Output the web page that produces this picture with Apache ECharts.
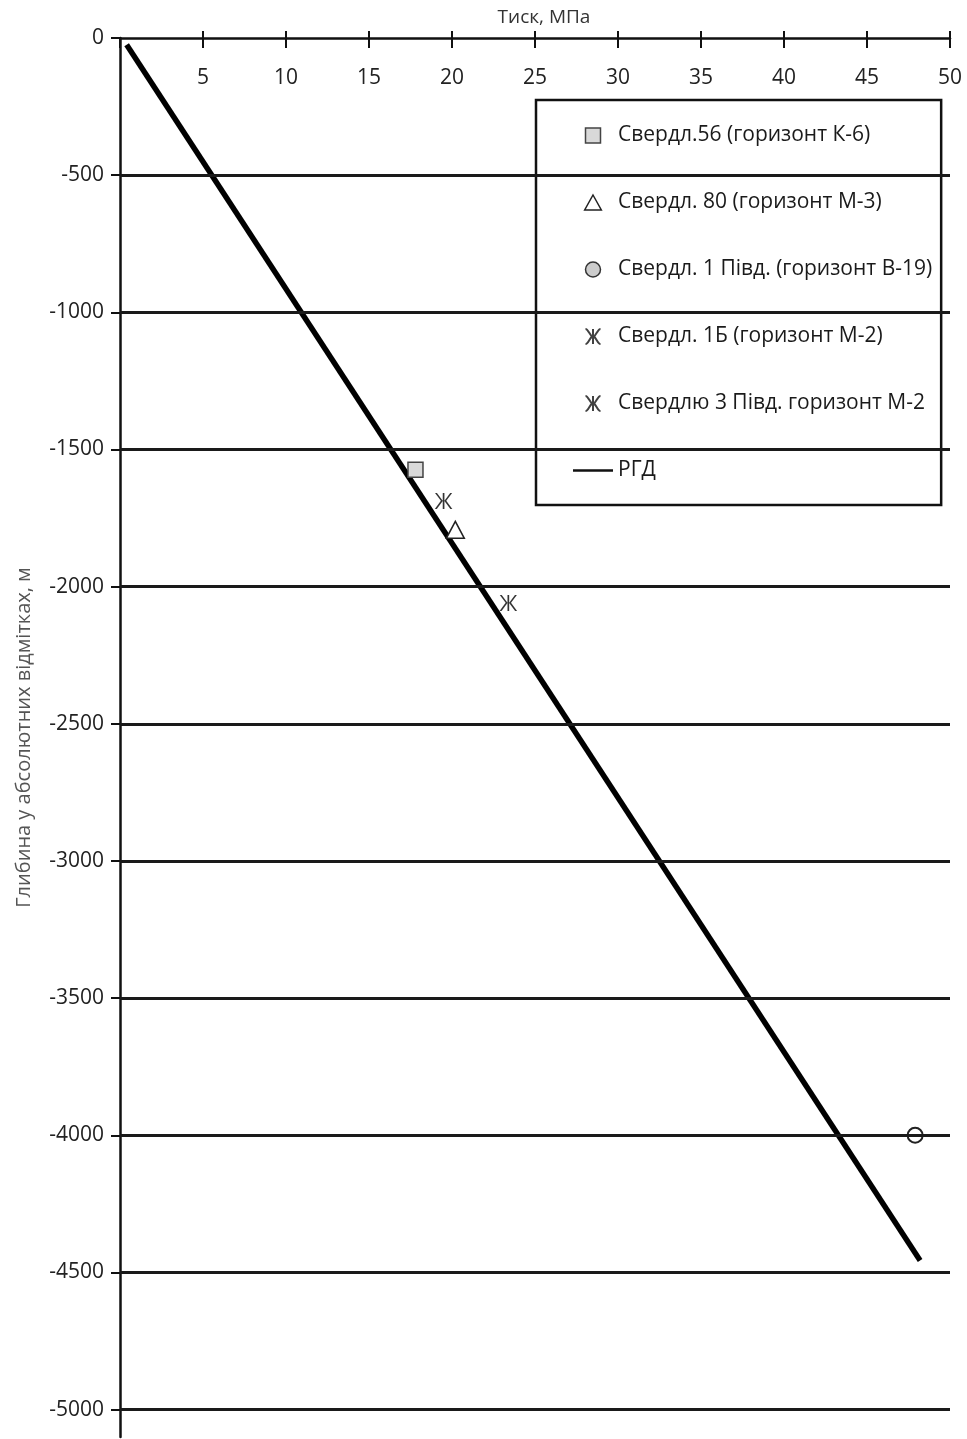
<!DOCTYPE html>
<html>
<head>
<meta charset="utf-8">
<script src="https://cdn.jsdelivr.net/npm/echarts@6/dist/echarts.min.js"></script>
<style>
  html, body { margin: 0; padding: 0; background: #fff; }
  #chart { width: 967px; height: 1439px; }
</style>
</head>
<body>
<div id="chart"></div>
<script>
// ---- data ----
const seriesNames = [
  'Свердл.56 (горизонт К-6)',
  'Свердл. 80 (горизонт М-3)',
  'Свердл. 1 Півд. (горизонт В-19)',
  'Свердл. 1Б (горизонт М-2)',
  'Свердлю 3 Півд. горизонт М-2',
  'РГД'
];
const well56 = [[17.8, -1574]];
const well80 = [[20.2, -1793]];
const well1Pivd = [[47.9, -4000]];
const well1B = [[19.5, -1694]];
const well3Pivd = [[23.4, -2066]];
const rgdLine = [[0.4, -25], [48.2, -4457]];
const depthTicks = [0, -500, -1000, -1500, -2000, -2500, -3000, -3500, -4000, -4500, -5000];
const depthGridLines = [-500, -1000, -1500, -2000, -2500, -3000, -3500, -4000, -4500, -5000];
const pressureMin = 0, pressureMax = 50, pressureStep = 5;
const depthMin = -5100, depthMax = 0;

const FONT = 'Open Sans';
const rectIcon = 'path://M0,0 L10,0 L10,10 L0,10 Z';
const triIcon = 'path://M5,0 L10,9 L0,9 Z';
const zhePath = 'path://M0,0 C2.5,0 4,6 6.3,7 C4,8 2.5,14 0,14 M14,0 C11.5,0 10,6 7.7,7 C10,8 11.5,14 14,14 M7,0 L7,14 M5.5,7 L8.5,7';
const lineIcon = 'path://M0,0 L40,0 L40,2.6 L0,2.6 Z';

const chart = echarts.init(document.getElementById('chart'), null, { renderer: 'canvas' });

const zheLabel = {
  show: true,
  formatter: 'Ж',
  position: 'inside',
  fontFamily: FONT,
  fontSize: 21,
  color: '#000'
};

chart.setOption({
  animation: false,
  backgroundColor: '#fff',
  textStyle: { fontFamily: FONT },
  grid: {
    left: 120, right: 17, top: 38, bottom: 2,
    containLabel: false,
    outerBoundsMode: 'none'
  },
  legend: {
    orient: 'vertical',
    left: 536, top: 100,
    padding: [25, 9, 24, 37],
    itemWidth: 40,
    itemHeight: 15,
    itemGap: 46,
    symbolKeepAspect: true,
    backgroundColor: '#fff',
    borderColor: '#111',
    borderWidth: 2.5,
    borderRadius: 0,
    textStyle: { fontFamily: FONT, fontSize: 21, color: '#1a1a1a' },
    data: [
      { name: seriesNames[0], icon: rectIcon, itemStyle: { color: '#d9d9d9', borderColor: '#444', borderWidth: 1.5 } },
      { name: seriesNames[1], icon: triIcon, itemStyle: { color: '#fff', borderColor: '#222', borderWidth: 1.5 } },
      { name: seriesNames[2], icon: 'circle', itemStyle: { color: '#ccc', borderColor: '#333', borderWidth: 1.5 } },
      { name: seriesNames[3], icon: zhePath, itemStyle: { color: 'transparent', borderColor: '#111', borderWidth: 2 } },
      { name: seriesNames[4], icon: zhePath, itemStyle: { color: 'transparent', borderColor: '#111', borderWidth: 2 } },
      { name: seriesNames[5], icon: lineIcon, itemStyle: { color: '#111', borderWidth: 0 } }
    ]
  },
  xAxis: [
    {
      type: 'value',
      position: 'top',
      min: pressureMin, max: pressureMax, interval: pressureStep,
      name: 'Тиск, МПа',
      nameLocation: 'middle',
      nameGap: 11,
      nameTextStyle: { fontFamily: FONT, fontSize: 19, color: '#333', padding: [0, 0, 0, 18] },
      axisLine: { show: true, onZero: false, lineStyle: { color: '#111', width: 2.5 } },
      axisTick: { show: true, inside: false, length: 7, lineStyle: { color: '#111', width: 2 } },
      axisLabel: {
        show: true, inside: true, margin: 30,
        fontFamily: FONT, fontSize: 21, color: '#222',
        showMinLabel: false,
        formatter: v => (v === 0 ? '' : String(v))
      },
      splitLine: { show: false }
    },
    {
      type: 'value',
      position: 'top',
      min: pressureMin, max: pressureMax, interval: pressureStep,
      axisLine: { show: false, onZero: false },
      axisTick: { show: true, inside: true, length: 10, lineStyle: { color: '#111', width: 2 } },
      axisLabel: { show: false },
      splitLine: { show: false }
    }
  ],
  yAxis: {
    type: 'value',
    min: depthMin, max: depthMax,
    name: 'Глибина у абсолютних відмітках, м',
    nameLocation: 'middle',
    nameGap: 86,
    nameTextStyle: { fontFamily: FONT, fontSize: 20, color: '#555' },
    axisLine: { show: true, onZero: false, lineStyle: { color: '#111', width: 2.5 } },
    axisTick: { show: true, inside: false, length: 9, customValues: depthTicks, lineStyle: { color: '#111', width: 2 } },
    axisLabel: {
      show: true, margin: 16, customValues: depthTicks,
      fontFamily: FONT, fontSize: 21, color: '#222',
      formatter: v => String(v)
    },
    splitLine: { show: false }
  },
  series: [
    {
      name: 'grid',
      type: 'scatter',
      data: [],
      silent: true,
      z: 1,
      markLine: {
        silent: true,
        symbol: 'none',
        label: { show: false },
        lineStyle: { color: '#1a1a1a', width: 3, type: 'solid' },
        data: depthGridLines.map(v => ({ yAxis: v }))
      }
    },
    {
      name: seriesNames[0], type: 'scatter', data: well56, z: 4,
      symbol: 'rect', symbolSize: 15,
      itemStyle: { color: '#d9d9d9', borderColor: '#444', borderWidth: 1.5, opacity: 1 }
    },
    {
      name: seriesNames[1], type: 'scatter', data: well80, z: 4,
      symbol: 'triangle', symbolSize: [18, 17],
      itemStyle: { color: '#fff', borderColor: '#222', borderWidth: 1.5, opacity: 1 }
    },
    {
      name: seriesNames[2], type: 'scatter', data: well1Pivd, z: 4,
      symbol: 'circle', symbolSize: 15,
      itemStyle: { color: '#fff', borderColor: '#222', borderWidth: 2, opacity: 1 }
    },
    {
      name: seriesNames[3], type: 'scatter', data: well1B, z: 4,
      symbol: 'circle', symbolSize: 1,
      itemStyle: { color: 'transparent' },
      label: zheLabel
    },
    {
      name: seriesNames[4], type: 'scatter', data: well3Pivd, z: 4,
      symbol: 'circle', symbolSize: 1,
      itemStyle: { color: 'transparent' },
      label: zheLabel
    },
    {
      name: seriesNames[5], type: 'line', data: rgdLine, z: 3,
      symbol: 'none', showSymbol: false,
      lineStyle: { color: '#000', width: 5.5, cap: 'butt' },
      itemStyle: { color: '#000' }
    }
  ]
});
</script>
</body>
</html>
